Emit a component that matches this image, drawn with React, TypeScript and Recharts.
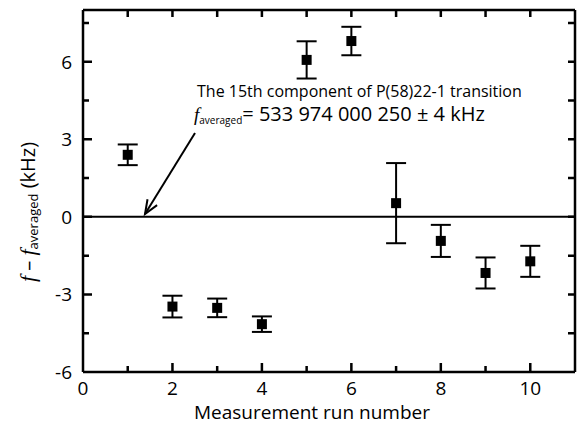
import { ScatterChart, Scatter, XAxis, YAxis, ErrorBar, ReferenceLine } from 'recharts';

const runs = [1, 2, 3, 4, 5, 6, 7, 8, 9, 10];
const deviations = [2.4, -3.47, -3.52, -4.15, 6.07, 6.8, 0.53, -0.93, -2.17, -1.72];
const errors = [0.4, 0.42, 0.36, 0.3, 0.72, 0.55, 1.55, 0.62, 0.6, 0.6];

const xDomain = [0, 11];
const yDomain = [-6, 8];
const xLabelled = [0, 2, 4, 6, 8, 10];
const xMarks = [1, 2, 3, 4, 5, 6, 7, 8, 9, 10];
const yLabelled = [-6, -3, 0, 3, 6];
const yMarks = [-4.5, -3, -1.5, 0, 1.5, 3, 4.5, 6, 7.5];

const data = runs.map((r, i) => ({ x: r, y: deviations[i], err: errors[i] }));

const FONT = '"Open Sans", "Noto Sans", sans-serif';
const SERIF = '"Liberation Serif", "DejaVu Serif", serif';
const axisLine = { stroke: '#000', strokeWidth: 2.5 };

// plot box that follows from the margins and axis sizes below
const W = 578;
const H = 427;
const margin = { top: 9, right: 2, left: 0, bottom: 0 };
const plot = { left: margin.left + 83, right: W - margin.right - 1, top: margin.top + 1, bottom: H - margin.bottom - 55 };
const px = (v: number) => plot.left + ((v - xDomain[0]) / (xDomain[1] - xDomain[0])) * (plot.right - plot.left);
const py = (v: number) => plot.bottom - ((v - yDomain[0]) / (yDomain[1] - yDomain[0])) * (plot.bottom - plot.top);

const BottomTick = (props: any) => {
  const { x, y, payload } = props;
  return (
    <text x={x} y={y + 23} textAnchor="middle" fontSize={19} fontFamily={FONT} fill="#000">
      {payload.value}
    </text>
  );
};

const LeftTick = (props: any) => {
  const { x, y, payload } = props;
  return (
    <text x={x - 11} y={y + 7} textAnchor="end" fontSize={19} fontFamily={FONT} fill="#000">
      {payload.value}
    </text>
  );
};

const Square = (props: any) => {
  const { cx, cy } = props;
  return <rect x={cx - 5} y={cy - 5} width={10} height={10} fill="#000" />;
};

// annotation arrow, pixel positions
const tail = { x: 195, y: 133 };
const tip = { x: 145, y: 214 };
const arrowHead = () => {
  const dx = tail.x - tip.x;
  const dy = tail.y - tip.y;
  const len = Math.hypot(dx, dy);
  const ux = dx / len;
  const uy = dy / len;
  const a = (22 * Math.PI) / 180;
  const l = 15;
  const rot = (s: number) => ({
    x: tip.x + l * (ux * Math.cos(s * a) - uy * Math.sin(s * a)),
    y: tip.y + l * (ux * Math.sin(s * a) + uy * Math.cos(s * a)),
  });
  const p1 = rot(1);
  const p2 = rot(-1);
  return `M${p1.x},${p1.y} L${tip.x},${tip.y} L${p2.x},${p2.y}`;
};

const tickPath = () => {
  let d = '';
  xMarks.forEach((t) => {
    const x = px(t);
    d += `M${x},${plot.bottom} v${t % 2 === 0 ? -9 : -6} `;
    d += `M${x},${plot.top} v7 `;
  });
  yMarks.forEach((t) => {
    const y = py(t);
    d += `M${plot.left},${y} h${t % 3 === 0 ? 9 : 6} `;
    d += `M${plot.right},${y} h-7 `;
  });
  return d;
};

export default function App() {
  return (
    <div style={{ position: 'absolute', left: 0, top: 0, width: W, height: H, background: '#fff' }}>
      <ScatterChart width={W} height={H} margin={margin}>
        <XAxis
          xAxisId="bottom"
          type="number"
          dataKey="x"
          domain={xDomain}
          ticks={xLabelled}
          interval={0}
          height={55}
          tickSize={0}
          tickMargin={0}
          tickLine={false}
          tick={<BottomTick />}
          axisLine={axisLine}
        />
        <XAxis xAxisId="top" orientation="top" type="number" domain={xDomain} height={1} tick={false} tickLine={false} axisLine={axisLine} />
        <YAxis
          yAxisId="left"
          type="number"
          dataKey="y"
          domain={yDomain}
          ticks={yLabelled}
          interval={0}
          width={83}
          tickSize={0}
          tickMargin={0}
          tickLine={false}
          tick={<LeftTick />}
          axisLine={axisLine}
        />
        <YAxis yAxisId="right" orientation="right" type="number" domain={yDomain} width={1} tick={false} tickLine={false} axisLine={axisLine} />
        <ReferenceLine xAxisId="bottom" yAxisId="left" y={0} stroke="#000" strokeWidth={2} />
        <Scatter xAxisId="bottom" yAxisId="left" data={data} shape={<Square />} isAnimationActive={false}>
          <ErrorBar dataKey="err" direction="y" width={10} stroke="#000" strokeWidth={2} isAnimationActive={false} />
        </Scatter>
      </ScatterChart>
      <svg width={W} height={H} style={{ position: 'absolute', left: 0, top: 0, pointerEvents: 'none' }}>
        <path d={tickPath()} fill="none" stroke="#000" strokeWidth={2.5} />
        <text x={197} y={97} fontSize={16} fontFamily={FONT} fill="#000">
          The 15th component of P(58)22-1 transition
        </text>
        <text x={194} y={121} fontFamily={FONT} fill="#000">
          <tspan fontFamily={SERIF} fontStyle="italic" fontSize={19}>f</tspan>
          <tspan fontSize={10} dy={3}>averaged</tspan>
          <tspan fontSize={20} dy={-3}>= 533 974 000 250 ± 4 kHz</tspan>
        </text>
        <line x1={tail.x} y1={tail.y} x2={tip.x} y2={tip.y} stroke="#000" strokeWidth={2} />
        <path d={arrowHead()} fill="none" stroke="#000" strokeWidth={2} />
        <text x={312} y={419} textAnchor="middle" fontSize={19} fontFamily={FONT} fill="#000">
          Measurement run number
        </text>
        <text transform="translate(35,212) rotate(-90)" textAnchor="middle" fontFamily={FONT} fill="#000">
          <tspan fontFamily={SERIF} fontStyle="italic" fontSize={22}>f</tspan>
          <tspan fontSize={20}> – </tspan>
          <tspan fontFamily={SERIF} fontStyle="italic" fontSize={22}>f</tspan>
          <tspan fontSize={13} dy={3}>averaged</tspan>
          <tspan fontSize={20} dy={-3}> (kHz)</tspan>
        </text>
      </svg>
    </div>
  );
}
